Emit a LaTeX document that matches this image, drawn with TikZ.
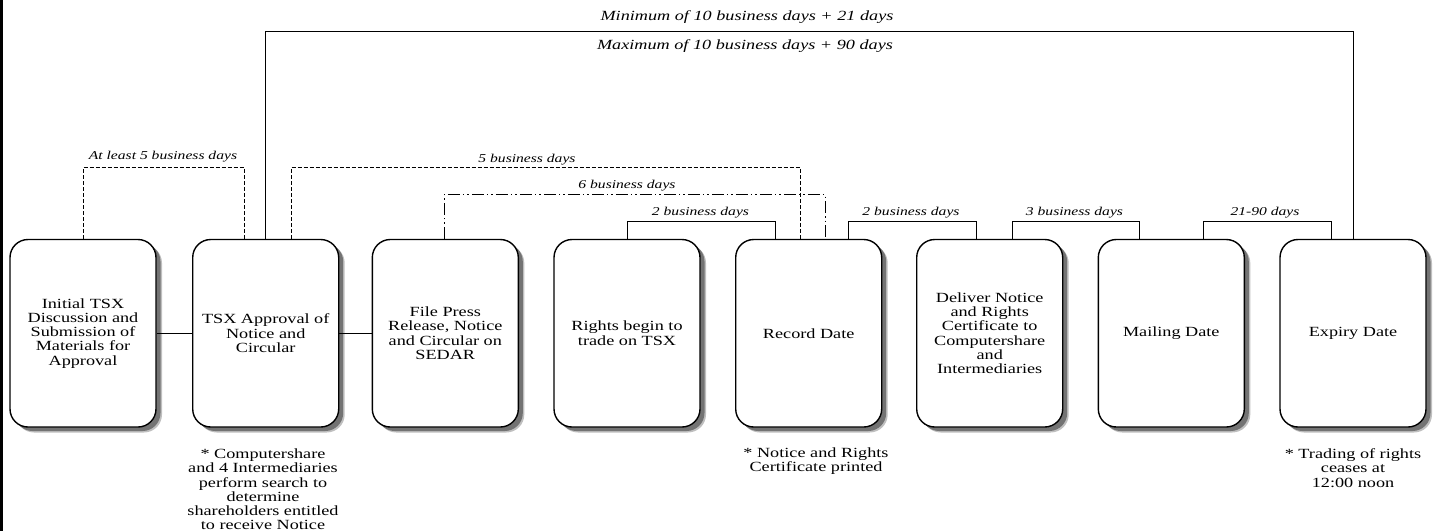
\documentclass[tikz,border=0pt]{standalone}
\usepackage{fontspec}
\setmainfont{Liberation Serif}[FakeStretch=1.3]
\begin{document}
\begin{tikzpicture}[x=1pt,y=-1pt,
  box/.style={draw, line width=1.4pt, rounded corners=18pt, minimum width=146pt,
    minimum height=187.5pt, fill=white, align=center, inner sep=2pt,
    font=\fontsize{14}{14.2}\selectfont,
    preaction={fill=black!25, draw=none, transform canvas={shift={(6pt,-5.5pt)}}},
    preaction={fill=black!55, draw=none, transform canvas={shift={(4.5pt,-4pt)}}}},
  note/.style={align=center, font=\fontsize{14}{14.2}\selectfont},
  lab/.style={font=\itshape\fontsize{12}{13}\selectfont},
  biglab/.style={font=\itshape\fontsize{14}{15}\selectfont},
  link/.style={line width=1pt},
  dashlink/.style={line width=1pt, dash pattern=on 4pt off 2pt},
  dashdotlink/.style={line width=1pt, dash pattern=on 12pt off 3pt on 1.5pt off 3pt on 1.5pt off 3pt}]
\useasboundingbox (0,0) rectangle (1437,531);
\draw[line width=3pt] (1.5,0) -- (1.5,531);

% boxes
\node[box] (b1) at (83,333.25) {Initial TSX\\Discussion and\\Submission of\\Materials for\\Approval};
\node[box] (b2) at (265.7,333.25) {TSX Approval of\\Notice and\\Circular};
\node[box] (b3) at (445.3,333.25) {File Press\\Release, Notice\\and Circular on\\SEDAR};
\node[box] (b4) at (627,333.25) {Rights begin to\\trade on TSX};
\node[box] (b5) at (808.7,333.25) {Record Date};
\node[box] (b6) at (989.7,333.25) {Deliver Notice\\and Rights\\Certificate to\\Computershare\\and\\Intermediaries};
\node[box] (b7) at (1171.3,333.25) {Mailing Date};
\node[box] (b8) at (1353,333.25) {Expiry Date};

% side links
\draw[link] (b1.east) -- (b2.west);
\draw[link] (b2.east) -- (b3.west);

% top brackets
\draw[link] (b2.north) -- ++(0,-207.8) -| (b8.north);
\draw[dashlink] (b1.north) -- ++(0,-71.5) -| ([xshift=-21.7pt]b2.north);
\draw[dashlink] ([xshift=25.3pt]b2.north) -- ++(0,-71.5) -| ([xshift=-8.7pt]b5.north);
\draw[dashdotlink] ([xshift=-1pt]b3.north) -- ++(0,-44.5) -| ([xshift=16.3pt]b5.north);
\draw[link] (b4.north) -- ++(0,-17.5) -| ([xshift=-33.7pt]b5.north);
\draw[link] ([xshift=39.3pt]b5.north) -- ++(0,-17.5) -| ([xshift=-13.7pt]b6.north);
\draw[link] ([xshift=22.3pt]b6.north) -- ++(0,-17.5) -| ([xshift=-32.3pt]b7.north);
\draw[link] ([xshift=31.7pt]b7.north) -- ++(0,-17.5) -| ([xshift=-22pt]b8.north);

% labels
\node[biglab] (lmin) at (747,17) {Minimum of 10 business days + 21 days};
\node[biglab] (lmax) at (745,46) {Maximum of 10 business days + 90 days};
\node[lab] (l1) at (163,157) {At least 5 business days};
\node[lab] (l2) at (527,160) {5 business days};
\node[lab] (l3) at (627,186) {6 business days};
\node[lab] (l4) at (700.5,213) {2 business days};
\node[lab] (l5) at (911,213) {2 business days};
\node[lab] (l6) at (1074.5,213) {3 business days};
\node[lab] (l7) at (1265,213) {21-90 days};

% notes
\node[note] (n2) at (263,489.5) {* Computershare\\and 4 Intermediaries\\perform search to\\determine\\shareholders entitled\\to receive Notice};
\node[note] (n5) at (816,461) {* Notice and Rights\\Certificate printed};
\node[note] (n8) at (1353,468) {* Trading of rights\\ceases at\\12:00 noon};
\end{tikzpicture}
\end{document}
